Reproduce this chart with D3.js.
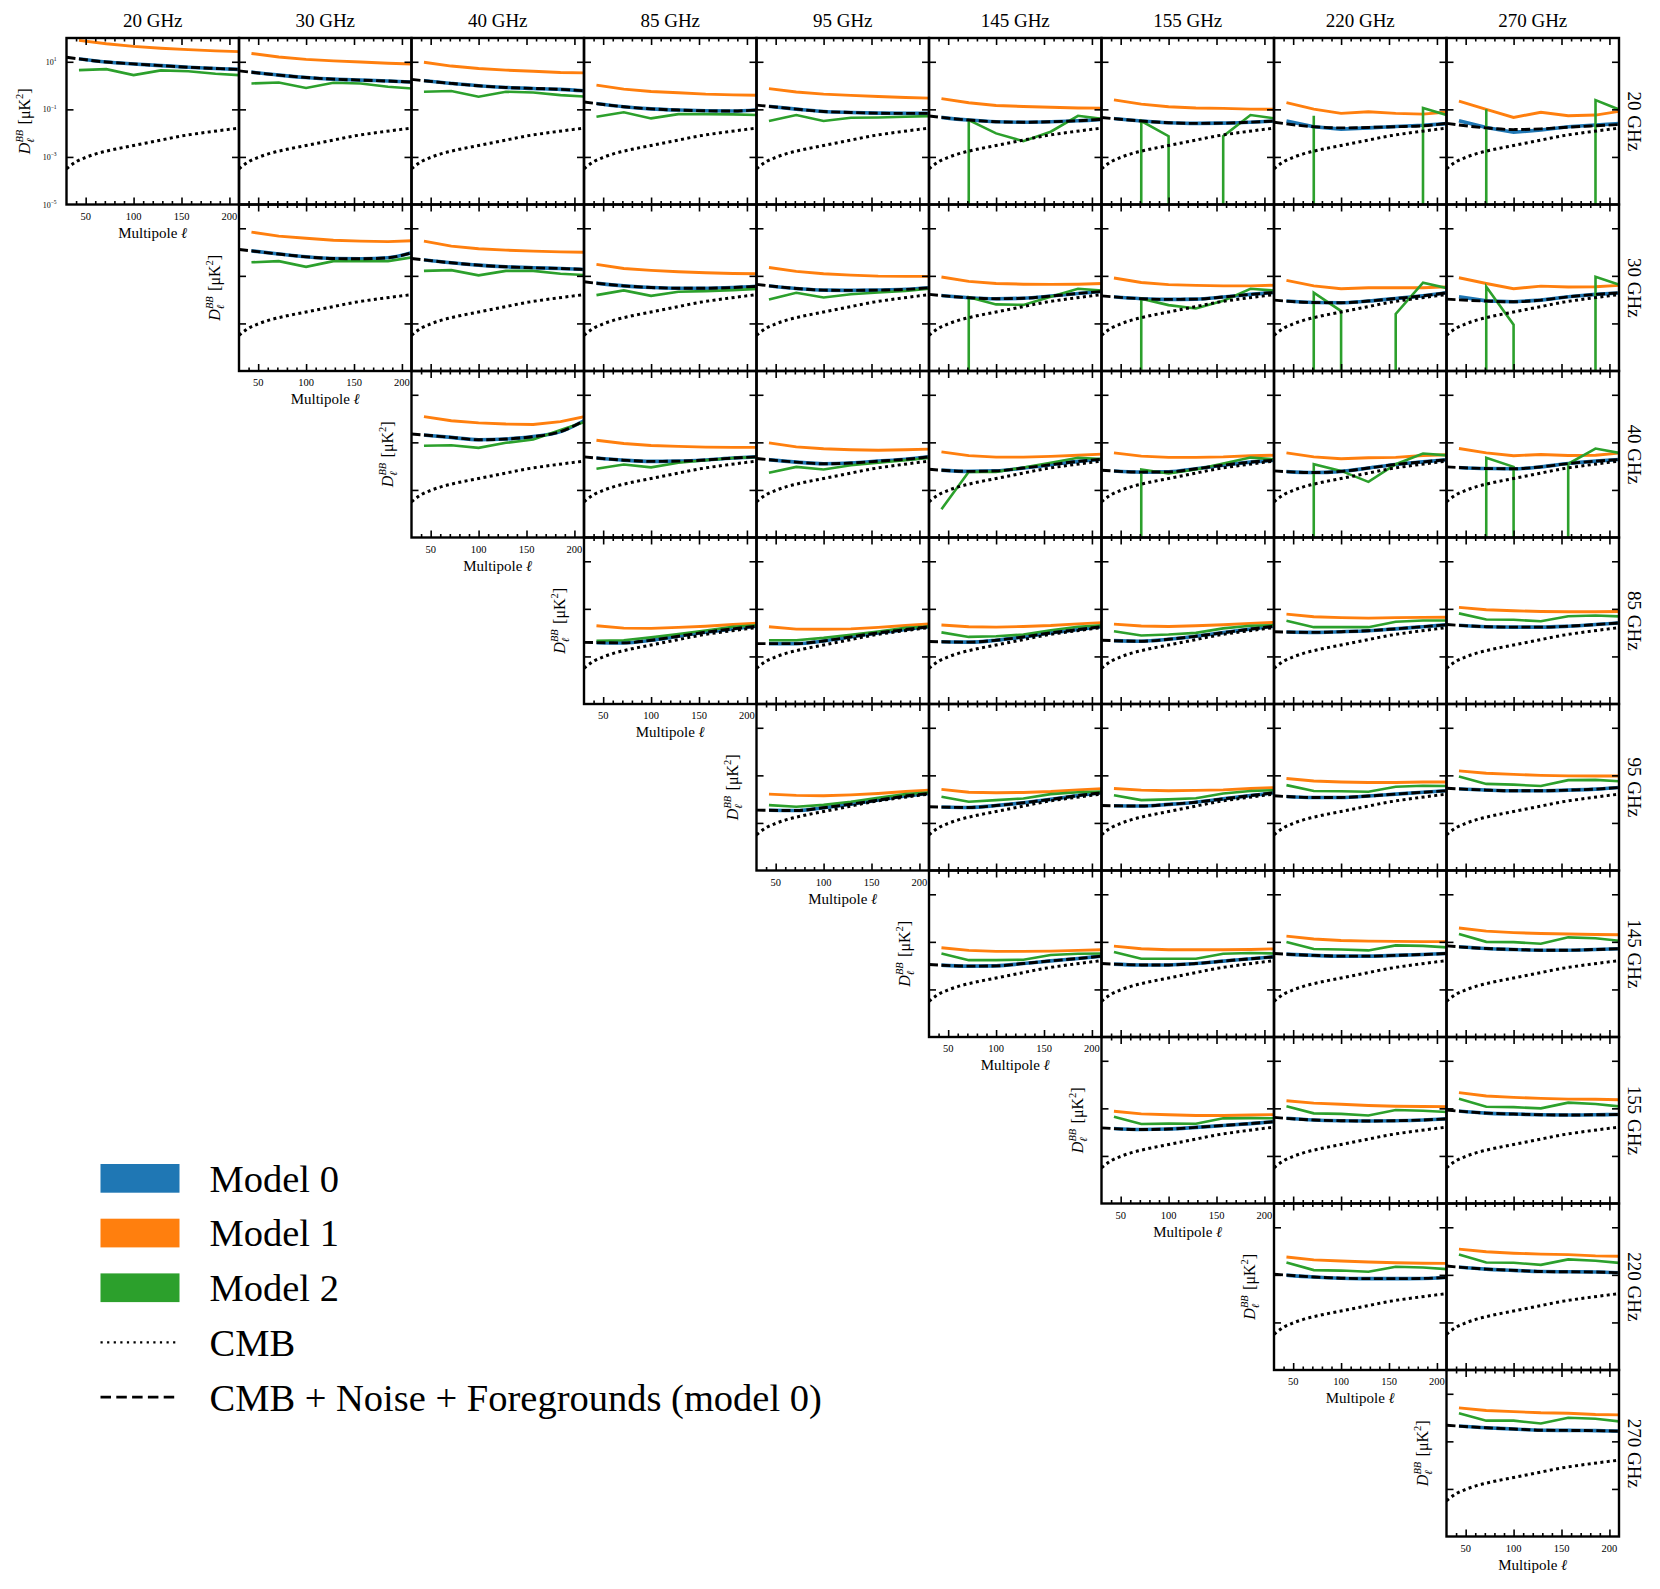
<!DOCTYPE html>
<html>
<head>
<meta charset="utf-8">
<script src="https://cdn.jsdelivr.net/npm/d3@7"></script>
<style>
body{margin:0;background:#fff}
svg text{font-family:"Liberation Serif","DejaVu Serif",serif;fill:#000}
</style>
</head>
<body>
<svg id="chart"></svg>
<script>
const freqs=["20 GHz","30 GHz","40 GHz","85 GHz","95 GHz","145 GHz","155 GHz","220 GHz","270 GHz"];
const ellBins=[43,71.5,100,128.5,157,185.5,214];
const ellTot=[30,71.5,100,128.5,157,185.5,210];
const ellCmb=[30,40,50,60,80,100,125,150,175,200,210];
// all spectra below are log10 of D_ell^BB [uK^2], panels row by row (i<=j)
const cmbLog=[-3.5,-3.2,-3.02,-2.88,-2.68,-2.52,-2.32,-2.12,-1.97,-1.84,-1.79];
const totLog=[
[1.19,0.99,0.91,0.84,0.77,0.72,0.68],[0.62,0.44,0.34,0.27,0.23,0.19,0.15],[0.26,0.09,-0.01,-0.08,-0.12,-0.16,-0.22],
[-0.69,-0.89,-0.98,-1.03,-1.06,-1.07,-1.03],[-0.82,-0.99,-1.09,-1.13,-1.16,-1.17,-1.17],[-1.28,-1.45,-1.52,-1.54,-1.52,-1.48,-1.42],
[-1.34,-1.49,-1.56,-1.59,-1.58,-1.54,-1.49],[-1.54,-1.73,-1.78,-1.76,-1.73,-1.69,-1.59],[-1.59,-1.78,-1.85,-1.82,-1.75,-1.69,-1.64],
[0.11,-0.08,-0.2,-0.27,-0.28,-0.24,-0.03],[-0.27,-0.45,-0.55,-0.62,-0.66,-0.69,-0.73],[-1.25,-1.42,-1.49,-1.52,-1.52,-1.49,-1.44],
[-1.36,-1.53,-1.6,-1.61,-1.6,-1.57,-1.5],[-1.78,-1.92,-1.96,-1.94,-1.85,-1.74,-1.66],[-1.84,-1.96,-1.99,-1.98,-1.89,-1.78,-1.7],
[-2.02,-2.12,-2.13,-2.06,-1.95,-1.84,-1.71],[-1.98,-2.06,-2.09,-2.02,-1.88,-1.78,-1.71],
[-0.65,-0.79,-0.89,-0.86,-0.76,-0.55,-0.09],[-1.61,-1.75,-1.8,-1.79,-1.74,-1.66,-1.61],[-1.68,-1.83,-1.9,-1.87,-1.79,-1.71,-1.61],
[-2.13,-2.22,-2.2,-2.08,-1.94,-1.8,-1.71],[-2.17,-2.25,-2.24,-2.11,-1.96,-1.83,-1.75],[-2.2,-2.27,-2.22,-2.08,-1.93,-1.82,-1.73],
[-2.03,-2.1,-2.11,-2.03,-1.89,-1.79,-1.72],
[-2.41,-2.43,-2.32,-2.15,-1.98,-1.84,-1.73],[-2.46,-2.46,-2.35,-2.18,-2.01,-1.87,-1.75],[-2.37,-2.4,-2.32,-2.18,-2.01,-1.87,-1.75],
[-2.32,-2.36,-2.28,-2.15,-2.0,-1.85,-1.73],[-1.96,-1.99,-1.96,-1.92,-1.84,-1.75,-1.67],[-1.66,-1.75,-1.77,-1.77,-1.73,-1.66,-1.59],
[-2.46,-2.48,-2.36,-2.21,-2.04,-1.87,-1.76],[-2.32,-2.35,-2.27,-2.15,-2.01,-1.85,-1.73],[-2.27,-2.29,-2.22,-2.13,-1.99,-1.85,-1.73],
[-1.86,-1.93,-1.93,-1.87,-1.79,-1.71,-1.65],[-1.54,-1.62,-1.65,-1.65,-1.62,-1.58,-1.51],
[-1.95,-2.02,-2.01,-1.91,-1.8,-1.7,-1.6],[-1.91,-1.97,-1.97,-1.91,-1.81,-1.71,-1.63],[-1.49,-1.57,-1.6,-1.6,-1.57,-1.53,-1.49],
[-1.17,-1.28,-1.32,-1.35,-1.35,-1.32,-1.29],
[-1.82,-1.89,-1.87,-1.8,-1.72,-1.64,-1.56],[-1.38,-1.49,-1.52,-1.53,-1.52,-1.49,-1.44],[-1.07,-1.2,-1.24,-1.27,-1.28,-1.27,-1.26],
[-0.97,-1.09,-1.14,-1.16,-1.16,-1.15,-1.11],[-0.63,-0.76,-0.81,-0.86,-0.87,-0.88,-0.91],
[-0.32,-0.43,-0.48,-0.53,-0.54,-0.55,-0.57]
];
const m1Log=[
[1.9,1.76,1.65,1.57,1.51,1.46,1.42],[1.35,1.2,1.1,1.04,0.99,0.94,0.9],[0.98,0.82,0.72,0.65,0.6,0.55,0.53],
[0.02,-0.15,-0.25,-0.3,-0.36,-0.39,-0.41],[-0.13,-0.27,-0.36,-0.41,-0.46,-0.5,-0.53],[-0.55,-0.72,-0.84,-0.88,-0.91,-0.94,-0.95],
[-0.6,-0.78,-0.89,-0.94,-0.96,-0.99,-1.0],[-0.72,-0.99,-1.17,-1.1,-1.17,-1.2,-1.1],[-0.65,-1.0,-1.34,-1.12,-1.27,-1.24,-1.06],
[0.84,0.67,0.58,0.5,0.46,0.44,0.48],[0.46,0.25,0.14,0.08,0.04,0.01,-0.01],[-0.52,-0.69,-0.77,-0.83,-0.87,-0.9,-0.91],
[-0.65,-0.81,-0.91,-0.97,-1.01,-1.02,-1.02],[-1.05,-1.23,-1.32,-1.35,-1.36,-1.35,-1.32],[-1.09,-1.28,-1.37,-1.4,-1.42,-1.42,-1.39],
[-1.19,-1.42,-1.54,-1.5,-1.5,-1.5,-1.46],[-1.08,-1.32,-1.54,-1.43,-1.47,-1.46,-1.39],
[0.08,-0.09,-0.18,-0.23,-0.25,-0.13,0.11],[-0.91,-1.05,-1.13,-1.17,-1.2,-1.21,-1.21],[-1.02,-1.19,-1.27,-1.31,-1.33,-1.31,-1.28],
[-1.4,-1.56,-1.62,-1.62,-1.59,-1.54,-1.49],[-1.44,-1.58,-1.63,-1.63,-1.61,-1.56,-1.54],[-1.44,-1.61,-1.69,-1.65,-1.63,-1.55,-1.52],
[-1.26,-1.44,-1.56,-1.51,-1.55,-1.54,-1.44],
[-1.71,-1.81,-1.82,-1.78,-1.73,-1.66,-1.59],[-1.75,-1.85,-1.86,-1.84,-1.78,-1.7,-1.63],[-1.68,-1.75,-1.77,-1.74,-1.7,-1.63,-1.57],
[-1.64,-1.72,-1.74,-1.71,-1.67,-1.61,-1.56],[-1.22,-1.33,-1.37,-1.39,-1.37,-1.36,-1.35],[-0.94,-1.04,-1.08,-1.11,-1.12,-1.12,-1.11],
[-1.79,-1.84,-1.86,-1.82,-1.76,-1.68,-1.61],[-1.59,-1.71,-1.73,-1.72,-1.68,-1.61,-1.55],[-1.55,-1.62,-1.65,-1.63,-1.61,-1.55,-1.51],
[-1.13,-1.24,-1.28,-1.3,-1.3,-1.28,-1.28],[-0.81,-0.91,-0.96,-1.0,-1.02,-1.03,-1.03],
[-1.25,-1.36,-1.4,-1.4,-1.39,-1.36,-1.33],[-1.18,-1.29,-1.33,-1.33,-1.33,-1.32,-1.29],[-0.76,-0.88,-0.94,-0.97,-0.98,-0.99,-0.99],
[-0.42,-0.55,-0.61,-0.65,-0.67,-0.69,-0.7],
[-1.12,-1.23,-1.27,-1.3,-1.3,-1.28,-1.26],[-0.68,-0.78,-0.83,-0.88,-0.91,-0.92,-0.93],[-0.34,-0.48,-0.54,-0.58,-0.61,-0.62,-0.64],
[-0.25,-0.37,-0.42,-0.46,-0.49,-0.51,-0.52],[0.08,-0.03,-0.09,-0.13,-0.15,-0.2,-0.22],
[0.41,0.3,0.25,0.2,0.18,0.13,0.11]
];
// null = negative bandpower (falls off the log axis)
const m2Log=[
[0.65,0.69,0.44,0.64,0.6,0.5,0.43],[0.09,0.13,-0.1,0.12,0.09,-0.05,-0.13],[-0.26,-0.23,-0.47,-0.26,-0.29,-0.4,-0.47],
[-1.31,-1.12,-1.38,-1.2,-1.2,-1.21,-1.24],[-1.49,-1.24,-1.49,-1.35,-1.34,-1.31,-1.28],[null,-1.45,-2.01,-2.34,-1.94,-1.27,-1.42],
[null,-1.49,-2.13,null,-2.13,-1.24,-1.4],[null,-1.27,null,null,null,-0.94,-1.28],[null,-1.0,null,null,null,-0.61,-1.07],
[-0.43,-0.38,-0.62,-0.38,-0.38,-0.38,-0.2],[-0.79,-0.76,-0.98,-0.79,-0.79,-0.91,-0.97],[-1.81,-1.61,-1.84,-1.67,-1.64,-1.6,-1.54],
[-1.99,-1.71,-1.91,-1.77,-1.7,-1.63,-1.53],[null,-1.9,-2.2,-2.22,-1.88,-1.54,-1.63],[null,-1.96,-2.23,-2.37,-2.05,-1.54,-1.63],
[null,-1.71,-2.48,null,-2.6,-1.29,-1.55],[null,-1.46,-3.05,null,null,-1.04,-1.42],
[-1.14,-1.12,-1.23,-1.02,-0.88,-0.48,-0.09],[-2.11,-1.93,-2.05,-1.86,-1.75,-1.66,-1.61],[-2.28,-2.03,-2.14,-1.96,-1.86,-1.75,-1.64],
[-3.81,-2.24,-2.24,-2.06,-1.86,-1.65,-1.71],[null,-2.14,-2.31,-2.14,-1.89,-1.64,-1.72],[null,-1.92,-2.2,-2.66,-1.92,-1.47,-1.56],
[null,-1.65,-2.03,null,-1.9,-1.26,-1.47],
[-2.34,-2.32,-2.2,-2.06,-1.91,-1.75,-1.68],[-2.32,-2.32,-2.22,-2.09,-1.95,-1.8,-1.73],[-1.99,-2.18,-2.15,-2.08,-1.9,-1.75,-1.68],
[-1.94,-2.12,-2.08,-2.01,-1.82,-1.71,-1.68],[-1.5,-1.77,-1.77,-1.77,-1.54,-1.49,-1.49],[-1.19,-1.45,-1.46,-1.52,-1.31,-1.28,-1.32],
[-2.25,-2.32,-2.24,-2.11,-1.94,-1.79,-1.71],[-1.9,-2.11,-2.04,-1.97,-1.79,-1.71,-1.68],[-1.84,-2.04,-2.01,-1.96,-1.76,-1.66,-1.62],
[-1.41,-1.66,-1.67,-1.69,-1.48,-1.44,-1.45],[-1.05,-1.36,-1.39,-1.45,-1.2,-1.19,-1.26],
[-1.49,-1.77,-1.77,-1.75,-1.55,-1.5,-1.49],[-1.43,-1.71,-1.71,-1.71,-1.5,-1.47,-1.49],[-1.01,-1.3,-1.32,-1.36,-1.15,-1.17,-1.24],
[-0.67,-1.0,-1.01,-1.08,-0.81,-0.85,-0.97],
[-1.35,-1.66,-1.64,-1.65,-1.42,-1.41,-1.42],[-0.91,-1.21,-1.23,-1.3,-1.07,-1.1,-1.16],[-0.6,-0.93,-0.95,-1.0,-0.76,-0.82,-0.93],
[-0.48,-0.8,-0.82,-0.87,-0.66,-0.69,-0.77],[-0.14,-0.48,-0.49,-0.58,-0.35,-0.41,-0.51],
[0.18,-0.13,-0.13,-0.25,-0.01,-0.05,-0.18]
];
// model 0 where it visibly departs from the dashed total
const m0Log={
  "0,7":[-1.49,-1.73,-1.83,-1.78,-1.72,-1.67,-1.59],
  "0,8":[-1.48,-1.76,-1.96,-1.87,-1.73,-1.66,-1.59],
  "1,8":[-1.88,-2.05,-2.09,-2.02,-1.88,-1.78,-1.71]
};
const legendNames=["Model 0","Model 1","Model 2","CMB","CMB + Noise + Foregrounds (model 0)"];
const colors=["#1f77b4","#ff7f0e","#2ca02c"];

const W=1660,H=1589,left0=66.5,top0=38,cw=172.5,rh=166.5;
const svg=d3.select("#chart").attr("width",W).attr("height",H);
svg.append("rect").attr("width",W).attr("height",H).attr("fill","#fff");

const x=d3.scaleLinear().domain([30,210]).range([0,cw]);
const y=d3.scaleLog().domain([1e-5,1e2]).range([rh,0]);
const yv=v=>v===null?rh+1e5:y(Math.pow(10,v));
const mkLine=(xs,curve)=>d3.line().x((d,i)=>x(xs[i])).y(d=>yv(d)).curve(curve||d3.curveLinear);

const defs=svg.append("defs");
defs.append("clipPath").attr("id","clipP").append("rect").attr("width",cw).attr("height",rh);
defs.append("clipPath").attr("id","clipB").append("rect").attr("x",x(43)).attr("width",cw-x(43)).attr("height",rh);

const majX=[50,100,150,200],minX=d3.range(40,210,10).filter(v=>v%50);
const majY=[1e1,1e-1,1e-3];

function styleAxis(a){
  a.select(".domain").remove();
  a.selectAll("line").attr("stroke","#000").attr("stroke-width",1.6);
  a.selectAll("text").remove();
}

function yLabel(g,bx,cy){
  const t=g.append("text").attr("transform",`translate(${bx},${cy}) rotate(-90)`)
    .attr("text-anchor","middle").attr("font-size",16);
  t.append("tspan").attr("font-style","italic").text("D");
  t.append("tspan").attr("font-style","italic").attr("font-size",10.5).attr("dy",-7).text("BB");
  t.append("tspan").attr("font-style","italic").attr("font-size",10.5).attr("dx",-13).attr("dy",11).text("ℓ");
  t.append("tspan").attr("dx",14).attr("dy",-4).text("[μK");
  t.append("tspan").attr("font-size",10.5).attr("dy",-7).text("2");
  t.append("tspan").attr("dy",7).text("]");
}

let k=0;
for(let i=0;i<9;i++){
  for(let j=i;j<9;j++,k++){
    const g=svg.append("g").attr("transform",`translate(${left0+j*cw},${top0+i*rh})`);
    const lines=g.append("g").attr("clip-path","url(#clipP)").attr("fill","none");
    const key=i+","+j;
    if(m0Log[key]){
      lines.append("path").attr("d",mkLine(ellBins)(m0Log[key])).attr("stroke",colors[0]).attr("stroke-width",3.6);
    }else{
      lines.append("g").attr("clip-path","url(#clipB)").append("path")
        .attr("d",mkLine(ellTot,d3.curveMonotoneX)(totLog[k])).attr("fill","none")
        .attr("stroke",colors[0]).attr("stroke-width",3.6);
    }
    lines.append("path").attr("d",mkLine(ellBins)(m1Log[k])).attr("stroke",colors[1]).attr("stroke-width",2.9);
    lines.append("path").attr("d",mkLine(ellBins)(m2Log[k])).attr("stroke",colors[2]).attr("stroke-width",2.6);
    lines.append("path").attr("d",mkLine(ellCmb,d3.curveMonotoneX)(cmbLog)).attr("stroke","#000")
      .attr("stroke-width",3).attr("stroke-dasharray","3,3.4");
    lines.append("path").attr("d",mkLine(ellTot,d3.curveMonotoneX)(totLog[k])).attr("stroke","#000")
      .attr("stroke-width",2.9).attr("stroke-dasharray","9,3.5");

    // inward ticks on all four sides
    g.append("g").attr("transform",`translate(0,${rh})`).call(d3.axisBottom(x).tickValues(majX).tickSize(-7)).call(styleAxis);
    g.append("g").attr("transform",`translate(0,${rh})`).call(d3.axisBottom(x).tickValues(minX).tickSize(-3.5)).call(styleAxis);
    g.append("g").call(d3.axisTop(x).tickValues(majX).tickSize(-7)).call(styleAxis);
    g.append("g").call(d3.axisTop(x).tickValues(minX).tickSize(-3.5)).call(styleAxis);
    g.append("g").call(d3.axisLeft(y).tickValues(majY).tickSize(-7)).call(styleAxis);
    g.append("g").attr("transform",`translate(${cw},0)`).call(d3.axisRight(y).tickValues(majY).tickSize(-7)).call(styleAxis);

    g.append("rect").attr("width",cw).attr("height",rh).attr("fill","none").attr("stroke","#000").attr("stroke-width",2.4);

    if(i===j){
      majX.forEach(v=>g.append("text").attr("x",x(v)).attr("y",rh+15).attr("text-anchor","middle")
        .attr("font-size",10.5).text(v));
      const xl=g.append("text").attr("x",cw/2).attr("y",rh+33).attr("text-anchor","middle").attr("font-size",15);
      xl.append("tspan").text("Multipole ");
      xl.append("tspan").attr("font-style","italic").text("ℓ");
      yLabel(g,i===0?-37:-19,rh/2);
      if(i===0){
        [1,-1,-3,-5].forEach(e=>{
          const t=g.append("text").attr("x",-10).attr("y",y(Math.pow(10,e))+3).attr("text-anchor","end").attr("font-size",8);
          t.append("tspan").text("10");
          t.append("tspan").attr("font-size",5.5).attr("dy",-3.5).text(e<0?"−"+(-e):e);
        });
      }
    }
  }
}

freqs.forEach((f,j)=>{
  svg.append("text").attr("x",left0+j*cw+cw/2).attr("y",27).attr("text-anchor","middle").attr("font-size",19).text(f);
  svg.append("text").attr("transform",`translate(1634,${top0+j*rh+rh/2}) rotate(90)`)
    .attr("text-anchor","middle").attr("dominant-baseline","central").attr("font-size",19).text(f);
});

// legend
const lg=svg.append("g").attr("transform","translate(100.5,1164)");
legendNames.forEach((name,n)=>{
  const yy=n*54.7;
  if(n<3){
    lg.append("rect").attr("y",yy).attr("width",79).attr("height",28.7).attr("fill",colors[n]);
  }else{
    lg.append("line").attr("x1",0).attr("x2",79).attr("y1",yy+14.3).attr("y2",yy+14.3)
      .attr("stroke","#000").attr("stroke-width",n===3?2.2:2.7).attr("stroke-dasharray",n===3?"2.2,4.4":"10.5,5.3");
  }
  lg.append("text").attr("x",109).attr("y",yy+27.7).attr("font-size",38.5).text(name);
});
</script>
</body>
</html>
